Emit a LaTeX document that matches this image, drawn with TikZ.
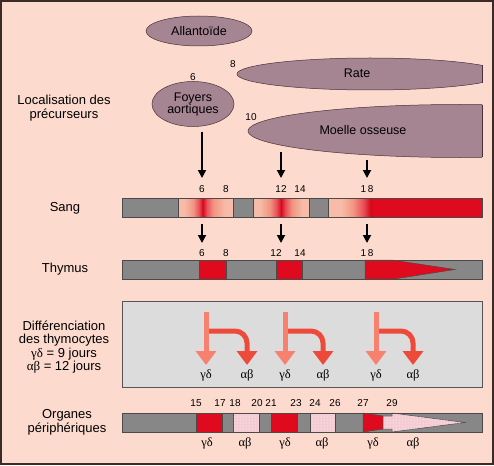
\documentclass[tikz,border=0pt]{standalone}
\usepackage{fontspec}
\setmainfont{Liberation Sans}
\newfontfamily\grk{Liberation Serif}
\usetikzlibrary{shapes.geometric,arrows.meta,patterns}
\definecolor{bg}{HTML}{FCDACD}
\definecolor{framecol}{HTML}{3B2A26}
\definecolor{organ}{HTML}{A58592}
\definecolor{organline}{HTML}{4A3038}
\definecolor{greybar}{HTML}{878787}
\definecolor{barline}{HTML}{4A4A4A}
\definecolor{redbar}{HTML}{E00A1E}
\definecolor{sal}{HTML}{F7BBA8}
\definecolor{salmid}{HTML}{F29482}
\definecolor{salred}{HTML}{E9505A}
\definecolor{deep}{HTML}{D8081C}
\definecolor{greybox}{HTML}{DCDCDC}
\definecolor{boxline}{HTML}{555555}
\definecolor{gdcol}{HTML}{F8806E}
\definecolor{abcol}{HTML}{EE4A3A}
\definecolor{hatch}{HTML}{F4CBD3}
\pgfdeclarehorizontalshading{peakA}{100bp}{color(0bp)=(sal); color(25bp)=(sal); color(31bp)=(sal); color(39bp)=(salmid); color(44bp)=(salred); color(47.5bp)=(deep); color(51bp)=(salred); color(57bp)=(salmid); color(68bp)=(sal); color(75bp)=(sal); color(100bp)=(sal)}
\pgfdeclarehorizontalshading{peakB}{100bp}{color(0bp)=(sal); color(25bp)=(sal); color(31bp)=(sal); color(40bp)=(salmid); color(46bp)=(salred); color(50bp)=(deep); color(54bp)=(salred); color(60bp)=(salmid); color(69bp)=(sal); color(75bp)=(sal); color(100bp)=(sal)}
\pgfdeclarehorizontalshading{rampC}{100bp}{color(0bp)=(sal); color(25bp)=(sal); color(40bp)=(sal); color(53bp)=(salmid); color(64bp)=(salred); color(72bp)=(deep); color(75bp)=(deep); color(100bp)=(deep)}
\begin{document}
\begin{tikzpicture}[x=1pt,y=-1pt,
  organshape/.style={fill=organ, draw=organline, line width=0.5pt},
  lbl/.style={font=\fontsize{13}{14}\selectfont, align=center, inner sep=0pt},
  otxt/.style={font=\fontsize{12.5}{12}\selectfont, align=center, inner sep=0pt},
  num/.style={font=\fontsize{10}{10}\selectfont, inner sep=0pt},
  gk/.style={font=\grk\fontsize{12.5}{12}\selectfont, inner sep=0pt},
  blk/.style={draw=black, line width=1.8pt, -{Triangle[width=8pt,length=8pt]}},
  barout/.style={draw=barline, line width=0.5pt},
  gdarrow/.style={draw=gdcol, line width=5pt, -{Triangle[width=20pt,length=14pt]}},
  abarrow/.style={draw=abcol, line width=5pt, rounded corners=12pt, -{Triangle[width=20pt,length=14pt]}},
  hatched/.style={fill=hatch}]
\useasboundingbox (0,0) rectangle (494,465);
\fill[bg] (0,0) rectangle (494,465);
\draw[framecol, line width=2pt] (1,1) rectangle (493,464);

% ---- left labels
\node[lbl] (lloc) at (64,108) {Localisation des\\précurseurs};
\node[lbl] (lsang) at (65,208) {Sang};
\node[lbl] (lthy) at (65,269) {Thymus};
\node[lbl, font=\fontsize{13}{13.3}\selectfont] (ldiff) at (64,347) {Différenciation\\des thymocytes\\{\grk γδ} = 9 jours\\{\grk αβ} = 12 jours};
\node[lbl] (lorg) at (67,422) {Organes\\périphériques};

% ---- organs
\node[organshape, ellipse, minimum width=106, minimum height=30, inner sep=0pt, font=\fontsize{12.5}{12}\selectfont] (allan) at (199,31) {Allantoïde};
\node[organshape, ellipse, minimum width=82, minimum height=45, inner sep=0pt, otxt] (foyers) at (193,104) {Foyers\\aortiques};
\node[num] (n6f) at (193,77) {6};
\begin{scope}
  \clip (0,0) rectangle (482,465);
  \filldraw[organshape] (370,74) ellipse [x radius=133pt, y radius=16pt];
  \filldraw[organshape] (460,131) ellipse [x radius=212pt, y radius=26.5pt];
\end{scope}
\draw[organline, line width=0.5pt] (482,65.4) -- (482,82.6);
\draw[organline, line width=0.5pt] (482,104.6) -- (482,157.4);
\node[otxt] (rate) at (357,73) {Rate};
\node[otxt] (moelle) at (363,130) {Moelle osseuse};
\node[num] (n8r) at (233,64) {8};
\node[num] (n10m) at (251,117) {10};

% ---- arrows to blood
\coordinate (a1s) at (202,132); \coordinate (a1e) at (202,178);
\coordinate (a2s) at (281,152); \coordinate (a2e) at (281,178);
\coordinate (a3s) at (367,160); \coordinate (a3e) at (367,178);
\draw[blk] (a1s) -- (a1e);
\draw[blk] (a2s) -- (a2e);
\draw[blk] (a3s) -- (a3e);

% ---- Sang bar
\node[num] (s6) at (202,189) {6};
\node[num] (s8) at (226,189) {8};
\node[num] (s12) at (281,189) {12};
\node[num] (s14) at (300,189) {14};
\node[num] (s18) at (367,189) {1\hspace{1.5pt}8};
\fill[greybar] (122,198) rectangle (482,217);
\shade[shading=peakA] (178,198) rectangle (233,217);
\shade[shading=peakB] (253,198) rectangle (309,217);
\shade[shading=rampC] (328,198) rectangle (373,217);
\fill[redbar] (373,198) rectangle (482,217);
\draw[barout] (178,198) -- (178,217) (233,198) -- (233,217) (253,198) -- (253,217) (309,198) -- (309,217) (328,198) -- (328,217) (373,198) -- (373,217);
\draw[barout] (122,198) rectangle (482,217);

% ---- arrows blood to thymus
\coordinate (b1s) at (202,224); \coordinate (b1e) at (202,243);
\coordinate (b2s) at (281,224); \coordinate (b2e) at (281,243);
\coordinate (b3s) at (367,224); \coordinate (b3e) at (367,243);
\draw[blk] (b1s) -- (b1e);
\draw[blk] (b2s) -- (b2e);
\draw[blk] (b3s) -- (b3e);

% ---- Thymus bar
\node[num] (t6) at (202,253) {6};
\node[num] (t8) at (226,253) {8};
\node[num] (t12) at (276,253) {12};
\node[num] (t14) at (300,253) {14};
\node[num] (t18) at (367,253) {1\hspace{1.5pt}8};
\fill[greybar] (122,260) rectangle (482,279);
\filldraw[fill=redbar, barout] (199,260) rectangle (226,279);
\filldraw[fill=redbar, barout] (276,260) rectangle (302,279);
\filldraw[fill=redbar, barout] (365,260) -- (392,260) -- (455,269.5) -- (394,279) -- (365,279) -- cycle;
\draw[barout] (122,260) rectangle (482,279);

% ---- differentiation box
\filldraw[fill=greybox, draw=boxline, line width=0.8pt] (122,301) rectangle (482,387);
\foreach \s/\a/\i in {206/247/1, 285/323/2, 376/413/3}{
  \coordinate (st\i) at (\s,312);
  \coordinate (br\i) at (\s,331);
  \coordinate (ce\i) at (\a,331);
  \coordinate (ge\i) at (\s,365);
  \coordinate (ae\i) at (\a,365);
  \draw[abarrow] (br\i) -- (ce\i) -- (ae\i);
  \draw[gdarrow] (st\i) -- (ge\i);
  \node[gk] (gd\i) at (\s,375) {γδ};
  \node[gk] (ab\i) at (\a,375) {αβ};
}

% ---- Organes bar
\foreach \x/\t/\i in {196/15/a, 220/17/b, 235/18/c, 257/20/d, 271/21/e, 296/23/f, 315/24/g, 335/26/h, 363/27/i, 392/29/j}{
  \node[num] (o\i) at (\x,403) {\t};
}
\fill[greybar] (122,413) rectangle (482,432);
\filldraw[fill=redbar, barout] (196,413) rectangle (222,432);
\filldraw[hatched, barout] (233,413) rectangle (259,432);
\fill[pattern=dots, pattern color=white] (233,413) rectangle (259,432);
\filldraw[fill=redbar, barout] (271,413) rectangle (297,432);
\filldraw[hatched, barout] (310,413) rectangle (335,432);
\fill[pattern=dots, pattern color=white] (310,413) rectangle (335,432);
\filldraw[fill=redbar, barout] (363,413) -- (383,416) -- (383,429) -- (363,432) -- cycle;
\filldraw[hatched, barout] (383,416) -- (392,416) -- (392,413) -- (465,422.5) -- (392,432) -- (392,429) -- (383,429) -- cycle;
\fill[pattern=dots, pattern color=white] (383,416) -- (392,416) -- (392,413) -- (465,422.5) -- (392,432) -- (392,429) -- (383,429) -- cycle;
\draw[barout] (122,413) rectangle (482,432);
\foreach \x/\g/\i in {207/γδ/1, 245/αβ/2, 285/γδ/3, 322/αβ/4, 373/γδ/5, 413/αβ/6}{
  \node[gk] (og\i) at (\x,443) {\g};
}
\end{tikzpicture}
\end{document}
